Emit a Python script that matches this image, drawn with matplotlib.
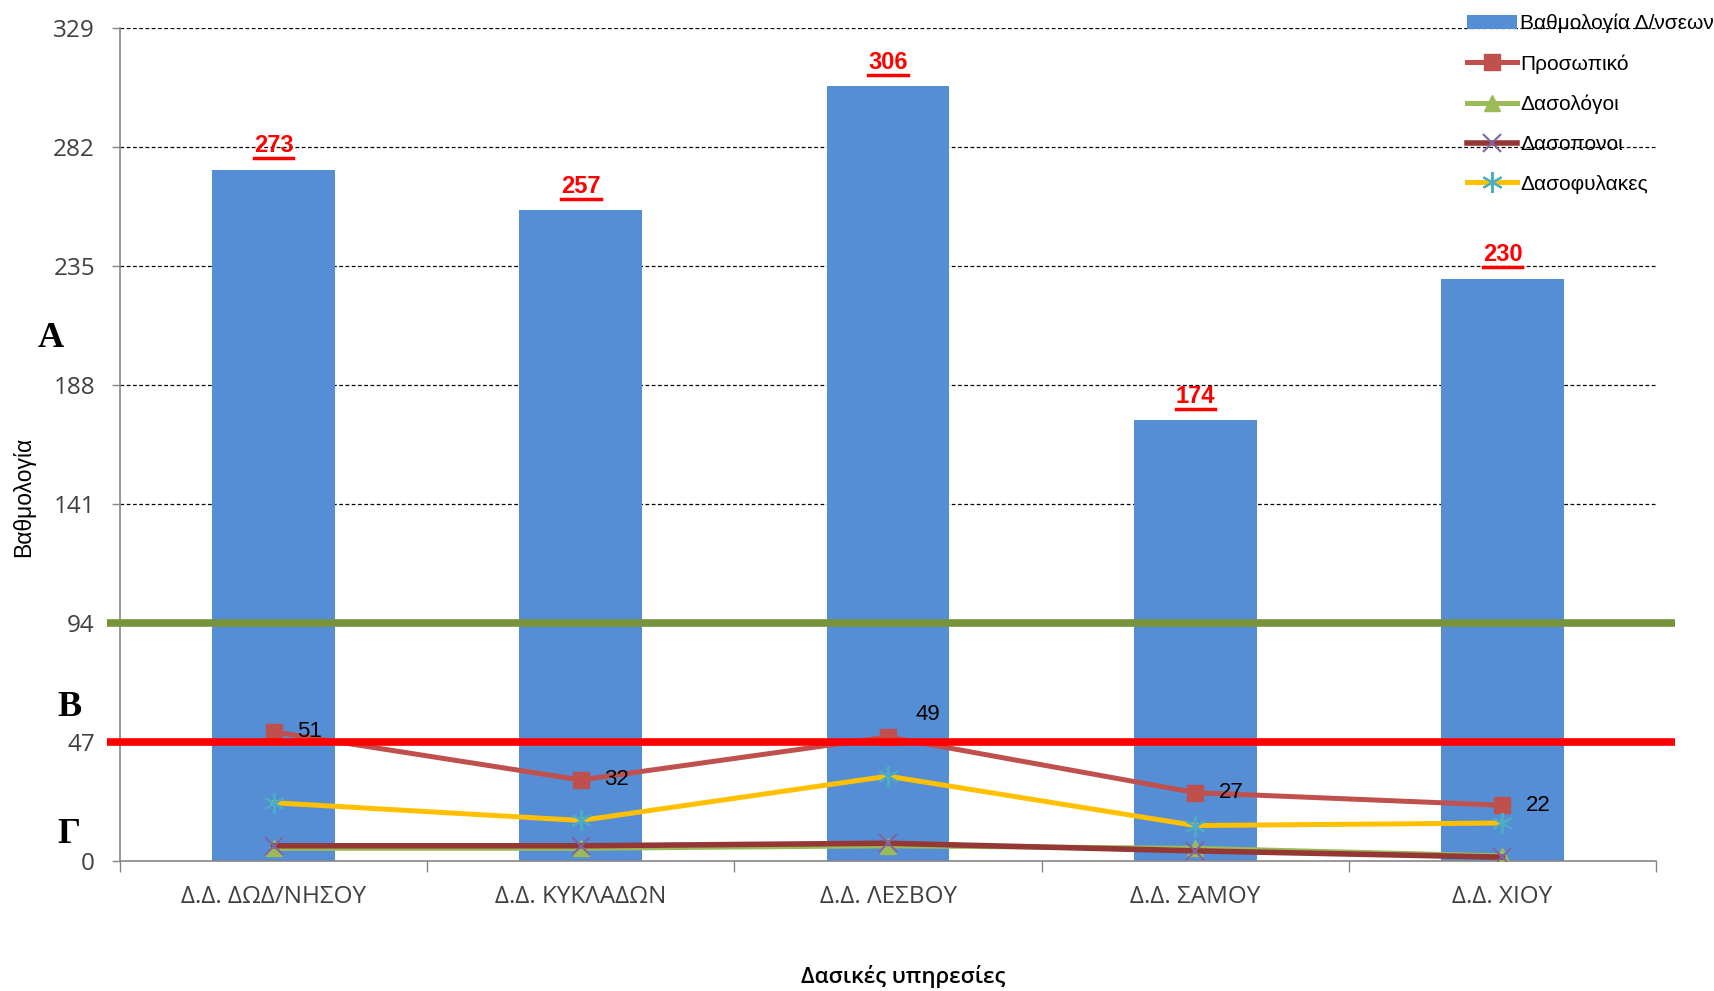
import numpy as np
import matplotlib
matplotlib.use('Agg')
import matplotlib.pyplot as plt
from matplotlib.lines import Line2D

plt.rcParams['font.family'] = ['Open Sans', 'DejaVu Sans']

# data
services = ['Δ.Δ. ΔΩΔ/ΝΗΣΟΥ', 'Δ.Δ. ΚΥΚΛΑΔΩΝ', 'Δ.Δ. ΛΕΣΒΟΥ', 'Δ.Δ. ΣΑΜΟΥ', 'Δ.Δ. ΧΙΟΥ']
score = [273, 257, 306, 174, 230]
staff = [51, 32, 49, 27, 22]
foresters = [5, 5, 6, 5, 2]
forest_workers = [6, 6, 7, 4, 1.5]
rangers = [23, 16, 33.5, 14, 15]
yticks = [0, 47, 94, 141, 188, 235, 282, 329]
level_a = 94
level_b = 47

narrow = ['Liberation Sans', 'DejaVu Sans']
grey = '#404040'

fig = plt.figure(figsize=(17.14, 9.91), dpi=100)
ax = fig.add_axes([0.0700, 0.1312, 0.8962, 0.8405])
x = np.arange(len(services))

ax.bar(x, score, width=0.4, color='#558ED5', zorder=2, label='Βαθμολογία Δ/νσεων')
ax.plot(x, staff, color='#C0504D', lw=3.6, marker='s', ms=12, zorder=4, label='Προσωπικό')
ax.plot(x, foresters, color='#9BBB59', lw=3.6, marker='^', ms=11, zorder=5, label='Δασολόγοι')
ax.plot(x, forest_workers, color='#953735', lw=4, marker='x', ms=13, mew=1.5, mec='#8064A2',
        zorder=6, label='Δασοπονοι')
ax.plot(x, rangers, color='#FFC000', lw=3.6, marker=(6, 2, 0), ms=15, mew=1.5, mec='#4BACC6',
        zorder=5, label='Δασοφυλακες')

# threshold lines A / B
tr = ax.get_yaxis_transform()
ax.plot([-0.0085, 1.0124], [level_a, level_a], transform=tr, color='#77933C', lw=5.5,
        zorder=7, clip_on=False, solid_capstyle='butt')
ax.plot([-0.0085, 1.0124], [level_b, level_b], transform=tr, color='#FF0000', lw=5.5,
        zorder=7, clip_on=False, solid_capstyle='butt')

bar_labels = []
for xi, v in zip(x, score):
    t = ax.annotate(str(v), (xi, v), xytext=(0, 9), textcoords='offset points',
                    ha='center', va='bottom', color='#FF0000', fontsize=17, fontweight='bold',
                    family=narrow, zorder=8)
    bar_labels.append(t)

offsets = [(17, 0), (17, 0), (20, 16), (17, 0), (17, 0)]
for xi, v, off in zip(x, staff, offsets):
    ax.annotate(str(v), (xi, v), xytext=off, textcoords='offset points', ha='left', va='center',
                fontsize=16, family=narrow, color='black', zorder=8)

ax.set_xlim(-0.5, len(services) - 0.5)
ax.set_ylim(0, 329)
ax.set_yticks(yticks)
ax.set_yticklabels([str(t) for t in yticks], fontsize=17.5, color=grey)
ax.set_xticks(x)
ax.set_xticklabels(services, fontsize=17.5, color=grey)
ax.set_xticks(np.arange(-0.5, len(services)), minor=True)
ax.tick_params(axis='x', which='major', length=0, pad=17)
ax.tick_params(axis='x', which='minor', length=8, color='#868686', width=1)
ax.tick_params(axis='y', length=6, color='#868686', width=1, pad=12)

for t in yticks[1:]:
    ax.axhline(t, color='black', lw=0.9, ls=(0, (3, 2)), zorder=1)

for s in ['top', 'right']:
    ax.spines[s].set_visible(False)
for s in ['left', 'bottom']:
    ax.spines[s].set_color('#868686')
    ax.spines[s].set_linewidth(1.2)

handles, labels = ax.get_legend_handles_labels()
handles = handles[-1:] + handles[:-1]
labels = labels[-1:] + labels[:-1]
leg = ax.legend(handles, labels, loc='upper left', bbox_to_anchor=(0.856, 0.986),
                bbox_transform=fig.transFigure, frameon=False,
                prop={'family': narrow, 'size': 15}, handlelength=2.4,
                handletextpad=0.15, labelspacing=1.0, borderpad=0, borderaxespad=0,
                numpoints=1)

fig.text(0.014, 0.499, 'Βαθμολογία', rotation=90, ha='center', va='center', fontsize=16.5,
         family=narrow, color='black')
fig.text(0.527, 0.015, 'Δασικές υπηρεσίες', ha='center', va='center', fontsize=16,
         fontweight='semibold', color='black')

serif = ['Liberation Serif', 'DejaVu Serif']
fig.text(0.0298, 0.658, 'A', ha='center', va='center', fontsize=26, fontweight='bold', family=serif)
fig.text(0.0403, 0.2856, 'B', ha='center', va='center', fontsize=26, fontweight='bold', family=serif)
fig.text(0.0403, 0.1584, 'Γ', ha='center', va='center', fontsize=26, fontweight='bold', family=serif)

# underline the bar labels
fig.canvas.draw()
r = fig.canvas.get_renderer()
for t in bar_labels:
    bb = t.get_window_extent(r)
    y0 = bb.y0 - 1
    fig.add_artist(Line2D([bb.x0, bb.x1], [y0, y0], transform=None, color='#FF0000', lw=2.5))

fig.savefig('out.png', dpi=100)
